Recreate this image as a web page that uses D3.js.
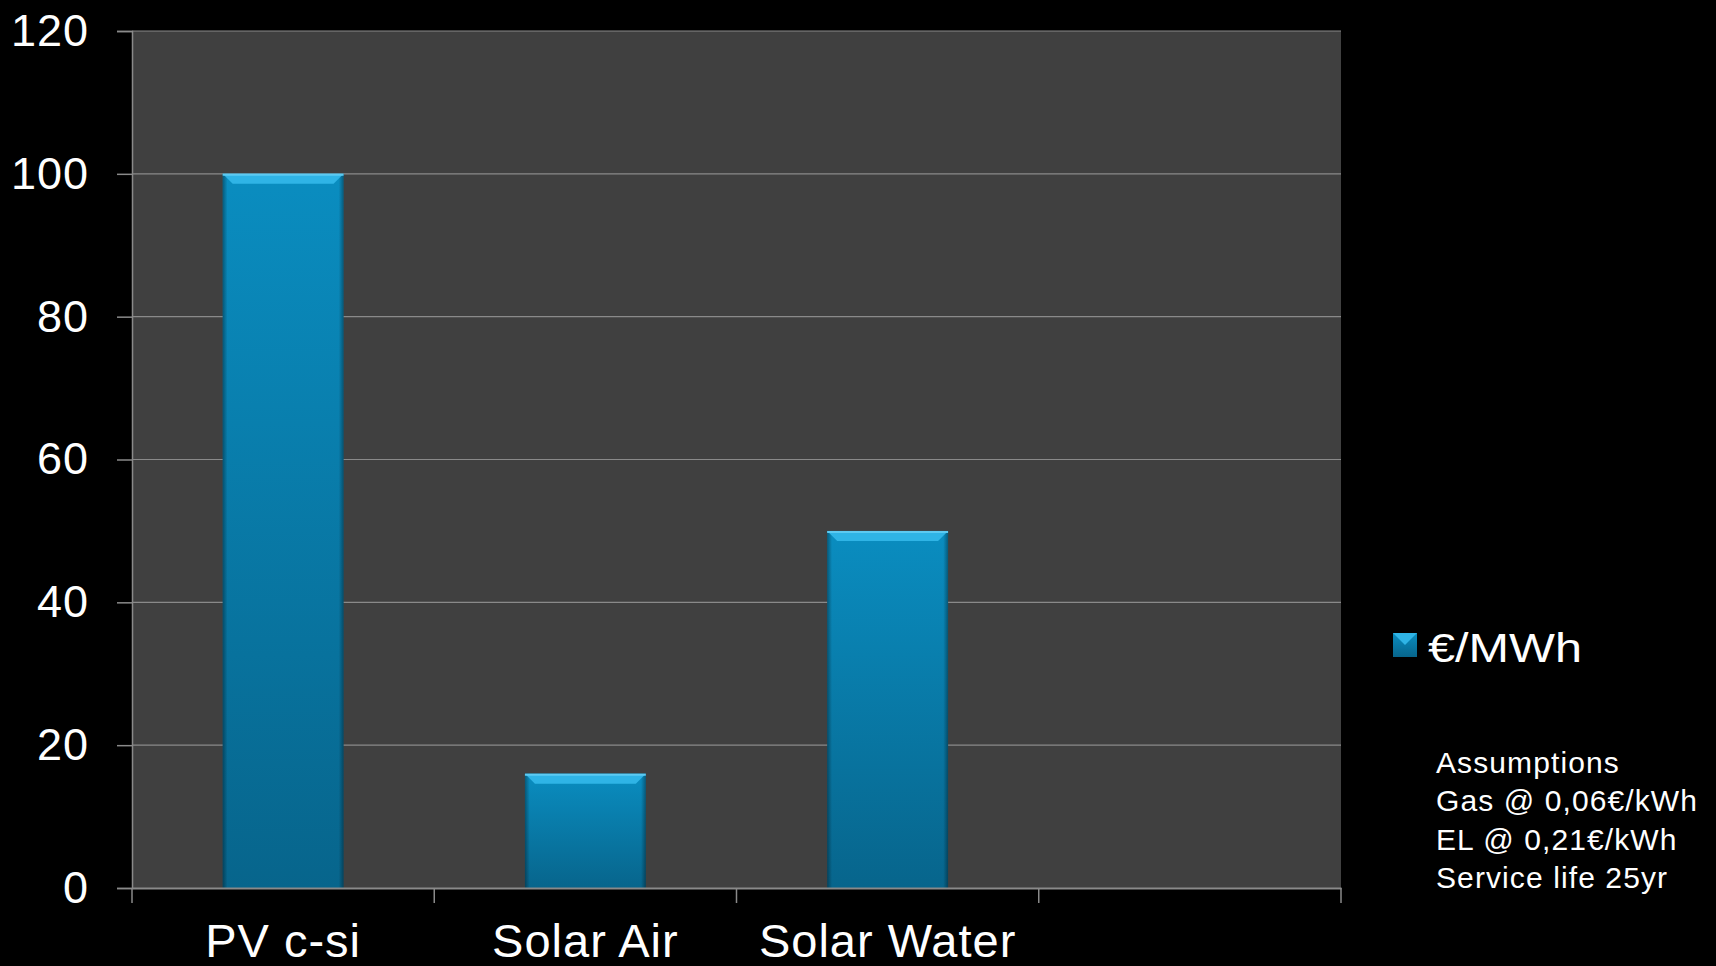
<!DOCTYPE html>
<html>
<head>
<meta charset="utf-8">
<script src="https://cdn.jsdelivr.net/npm/d3@7"></script>
<style>
  html, body { margin: 0; padding: 0; background: #000; }
  svg { display: block; font-family: "Liberation Sans", Arial, sans-serif; }
</style>
</head>
<body>
<div id="chart"></div>
<script>
var width = 1716;
var height = 966;

var margin = {top: 31, right: 375, bottom: 78, left: 132};
var chartWidth = width - margin.left - margin.right;
var chartHeight = height - margin.top - margin.bottom;

// data
var categories = ["PV c-si", "Solar Air", "Solar Water", ""];
var values = [100, 16, 50, null];
var yTicks = [0, 20, 40, 60, 80, 100, 120];
var seriesName = "€/MWh";
var notes = ["Assumptions", "Gas @ 0,06€/kWh", "EL @ 0,21€/kWh", "Service life 25yr"];

var svg = d3.select("#chart")
    .append("svg")
    .attr("width", width)
    .attr("height", height);

var defs = svg.append("defs");
var grad = defs.append("linearGradient")
    .attr("id", "barGrad")
    .attr("x1", 0).attr("y1", 0).attr("x2", 0).attr("y2", 1);
grad.append("stop").attr("offset", "0%").attr("stop-color", "#0a8dc0");
grad.append("stop").attr("offset", "100%").attr("stop-color", "#07658c");

var sideGrad = defs.append("linearGradient")
    .attr("id", "sideGrad")
    .attr("x1", 0).attr("y1", 0).attr("x2", 1).attr("y2", 0);
sideGrad.append("stop").attr("offset", "0%").attr("stop-color", "#000").attr("stop-opacity", 0.35);
sideGrad.append("stop").attr("offset", "4%").attr("stop-color", "#000").attr("stop-opacity", 0);
sideGrad.append("stop").attr("offset", "96%").attr("stop-color", "#000").attr("stop-opacity", 0);
sideGrad.append("stop").attr("offset", "100%").attr("stop-color", "#000").attr("stop-opacity", 0.35);

var g = svg.append("g")
    .attr("transform", "translate(" + margin.left + "," + margin.top + ")");

var x = d3.scaleBand()
    .domain(categories.map(function (d, i) { return i; }))
    .range([0, chartWidth])
    .paddingInner(0.6)
    .paddingOuter(0.3);

var y = d3.scaleLinear()
    .domain([0, 120])
    .range([chartHeight, 0]);

// plot area
g.append("rect")
    .attr("width", chartWidth)
    .attr("height", chartHeight)
    .attr("fill", "#404040");

// gridlines
g.selectAll(".grid")
    .data(yTicks.slice(1))
    .enter().append("line")
    .attr("class", "grid")
    .attr("x1", 0).attr("x2", chartWidth)
    .attr("y1", function (d) { return y(d); })
    .attr("y2", function (d) { return y(d); })
    .attr("stroke", "#8a8a8a")
    .attr("stroke-width", 1.2);

// y axis
var yAxis = g.append("g")
    .call(d3.axisLeft(y).tickValues(yTicks).tickSize(15).tickPadding(28));
yAxis.select(".domain").attr("stroke", "#8a8a8a").attr("stroke-width", 1.5);
yAxis.selectAll(".tick line").attr("stroke", "#8a8a8a").attr("stroke-width", 1.5);
yAxis.selectAll(".tick text")
    .attr("fill", "#fff")
    .attr("font-size", 45)
    .attr("letter-spacing", 1)
    .attr("font-family", "Liberation Sans, Arial, sans-serif");

// bars
var data = values.map(function (v, i) { return {i: i, v: v}; })
    .filter(function (d) { return d.v !== null; });

var bars = g.selectAll(".bar")
    .data(data)
    .enter().append("g")
    .attr("class", "bar");

bars.append("rect")
    .attr("x", function (d) { return x(d.i); })
    .attr("y", function (d) { return y(d.v); })
    .attr("width", x.bandwidth())
    .attr("height", function (d) { return y(0) - y(d.v); })
    .attr("fill", "url(#barGrad)");

bars.append("rect")
    .attr("x", function (d) { return x(d.i); })
    .attr("y", function (d) { return y(d.v); })
    .attr("width", x.bandwidth())
    .attr("height", function (d) { return y(0) - y(d.v); })
    .attr("fill", "url(#sideGrad)");

// bevel on top of each bar
var bev = 10;
bars.append("polygon")
    .attr("points", function (d) {
        var x0 = x(d.i), x1 = x(d.i) + x.bandwidth(), y0 = y(d.v);
        return [[x0, y0], [x1, y0], [x1 - bev, y0 + bev], [x0 + bev, y0 + bev]].join(" ");
    })
    .attr("fill", "#2fb4e6");

bars.append("line")
    .attr("x1", function (d) { return x(d.i); })
    .attr("x2", function (d) { return x(d.i) + x.bandwidth(); })
    .attr("y1", function (d) { return y(d.v) + 1; })
    .attr("y2", function (d) { return y(d.v) + 1; })
    .attr("stroke", "#5ccaf2")
    .attr("stroke-width", 2);

// x axis
var xAxis = g.append("g")
    .attr("transform", "translate(0," + chartHeight + ")")
    .call(d3.axisBottom(x).tickSize(0).tickSizeOuter(0).tickFormat(function (i) { return categories[i]; }).tickPadding(36));
xAxis.select(".domain").attr("stroke", "#8a8a8a").attr("stroke-width", 2);
xAxis.selectAll(".tick text")
    .attr("fill", "#fff")
    .attr("font-size", 47)
    .attr("letter-spacing", 1)
    .attr("font-family", "Liberation Sans, Arial, sans-serif");

// category boundary ticks
var bounds = categories.map(function (d, i) { return x(i) - x.step() * x.paddingInner() / 2; });
bounds[0] = 0;
bounds.push(chartWidth);
g.selectAll(".xtick")
    .data(bounds)
    .enter().append("line")
    .attr("class", "xtick")
    .attr("x1", function (d) { return d; })
    .attr("x2", function (d) { return d; })
    .attr("y1", chartHeight)
    .attr("y2", chartHeight + 15)
    .attr("stroke", "#8a8a8a")
    .attr("stroke-width", 1.5);

// legend
var legend = svg.append("g")
    .attr("transform", "translate(1393,633)");
legend.append("rect")
    .attr("width", 24).attr("height", 24)
    .attr("fill", "url(#barGrad)");
legend.append("polygon")
    .attr("points", "0,0 24,0 12,12")
    .attr("fill", "#2fb4e6");
legend.append("text")
    .attr("x", 35)
    .attr("y", 29)
    .attr("fill", "#fff")
    .attr("font-size", 41)
    .attr("textLength", 154)
    .attr("lengthAdjust", "spacingAndGlyphs")
    .text(seriesName);

// notes
svg.append("g")
    .selectAll("text")
    .data(notes)
    .enter().append("text")
    .attr("x", 1436)
    .attr("y", function (d, i) { return 773 + i * 38.3; })
    .attr("fill", "#fff")
    .attr("font-size", 30)
    .attr("letter-spacing", 1.1)
    .text(function (d) { return d; });
</script>
</body>
</html>
